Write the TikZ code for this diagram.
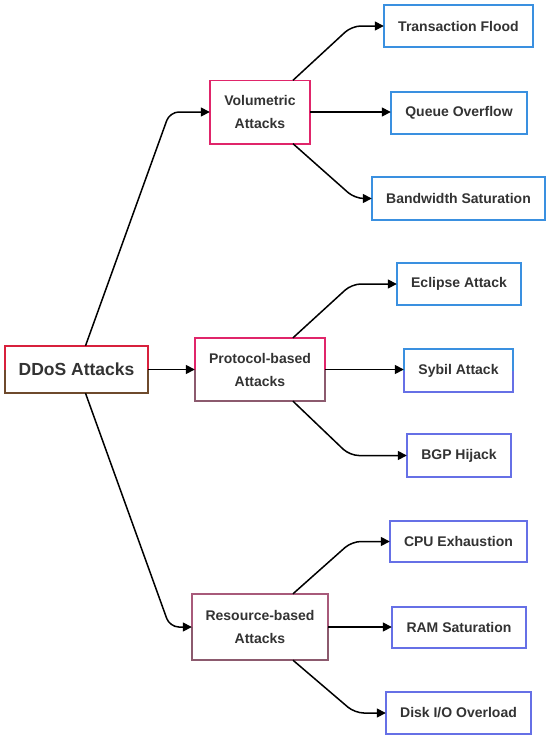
\documentclass[tikz,border=0pt]{standalone}
\usepackage{fontspec}
\setmainfont{Liberation Sans}
\usetikzlibrary{arrows.meta}
\definecolor{txt}{HTML}{333333}
\definecolor{cred}{HTML}{D8203C}
\definecolor{cbrown}{HTML}{6E4A2C}
\definecolor{cpink}{HTML}{E0256A}
\definecolor{cmauve}{HTML}{8C5A6E}
\definecolor{cres}{HTML}{A85A7A}
\definecolor{cblue}{HTML}{3A90E0}
\definecolor{cperi}{HTML}{6670E6}
\tikzset{
  box/.style={rectangle, inner sep=0pt, fill=white, text=txt, font=\bfseries\fontsize{14}{23}\selectfont, align=center},
  conn/.style={line width=1.5pt, black, rounded corners=9pt, -{Triangle[length=9pt,width=9pt]}},
  edge/.style={line width=1.6pt, line join=miter}
}
\begin{document}
\begin{tikzpicture}[x=1pt,y=-1pt]
\useasboundingbox (0,0) rectangle (550,740);
\fill[white] (0,0) rectangle (550,740);
% nodes
\node[box, minimum width=143pt, minimum height=47pt, font=\bfseries\fontsize{17.5}{20}\selectfont] (ddos) at (76.5,369.5) {DDoS Attacks};
\node[box, minimum width=100pt, minimum height=63pt] (vol) at (260,112) {Volumetric\\Attacks};
\node[box, minimum width=130pt, minimum height=63pt] (prot) at (260,369.5) {Protocol-based\\Attacks};
\node[box, minimum width=136pt, minimum height=66pt] (res) at (260,627) {Resource-based\\Attacks};
\node[box, minimum width=149pt, minimum height=42pt] (tf) at (458.5,26) {Transaction Flood};
\node[box, minimum width=136pt, minimum height=42pt] (qo) at (459,113) {Queue Overflow};
\node[box, minimum width=173pt, minimum height=43pt] (bs) at (458.5,198.5) {Bandwidth Saturation};
\node[box, minimum width=124pt, minimum height=42pt] (ecl) at (459,284) {Eclipse Attack};
\node[box, minimum width=109pt, minimum height=43pt] (syb) at (458.5,370.5) {Sybil Attack};
\node[box, minimum width=104pt, minimum height=43pt] (bgp) at (459,455.5) {BGP Hijack};
\node[box, minimum width=137pt, minimum height=41pt] (cpu) at (458.5,541.5) {CPU Exhaustion};
\node[box, minimum width=134pt, minimum height=41pt] (ram) at (459,627.5) {RAM Saturation};
\node[box, minimum width=145pt, minimum height=42pt] (disk) at (458.5,713) {Disk I/O Overload};
% borders (top half / bottom half colours)
\foreach \n/\ct/\cb in {ddos/cred/cbrown, vol/cpink/cpink, prot/cpink/cmauve, res/cres/cmauve,
  tf/cblue/cblue, qo/cblue/cblue, bs/cblue/cblue, ecl/cblue/cblue, syb/cblue/cperi, bgp/cperi/cperi,
  cpu/cperi/cperi, ram/cperi/cperi, disk/cperi/cperi}{
  \draw[edge, \ct] (\n.west) |- (\n.north) -| (\n.east);
  \draw[edge, \cb] (\n.west) |- (\n.south) -| (\n.east);
}
% connectors from DDoS
\draw[conn] ([xshift=9pt]ddos.north) -- ([xshift=-40pt]vol.west) -- (vol.west);
\draw[conn] (ddos.east) -- (prot.west);
\draw[conn] ([xshift=9pt]ddos.south) -- ([xshift=-22pt]res.west) -- (res.west);
% Volumetric
\draw[conn] ([xshift=33pt]vol.north) -- ([xshift=-32pt]tf.west) -- (tf.west);
\draw[conn] (vol.east) -- (vol.east -| qo.west);
\draw[conn] ([xshift=33pt]vol.south) -- ([xshift=-17pt]bs.west) -- (bs.west);
% Protocol
\draw[conn] ([xshift=33pt]prot.north) -- ([xshift=-45pt]ecl.west) -- (ecl.west);
\draw[conn] (prot.east) -- (prot.east -| syb.west);
\draw[conn] ([xshift=33pt]prot.south) -- ([xshift=-57pt]bgp.west) -- (bgp.west);
% Resource
\draw[conn] ([xshift=33pt]res.north) -- ([xshift=-38pt]cpu.west) -- (cpu.west);
\draw[conn] (res.east) -- (res.east -| ram.west);
\draw[conn] ([xshift=33pt]res.south) -- ([xshift=-31pt]disk.west) -- (disk.west);
\end{tikzpicture}
\end{document}
